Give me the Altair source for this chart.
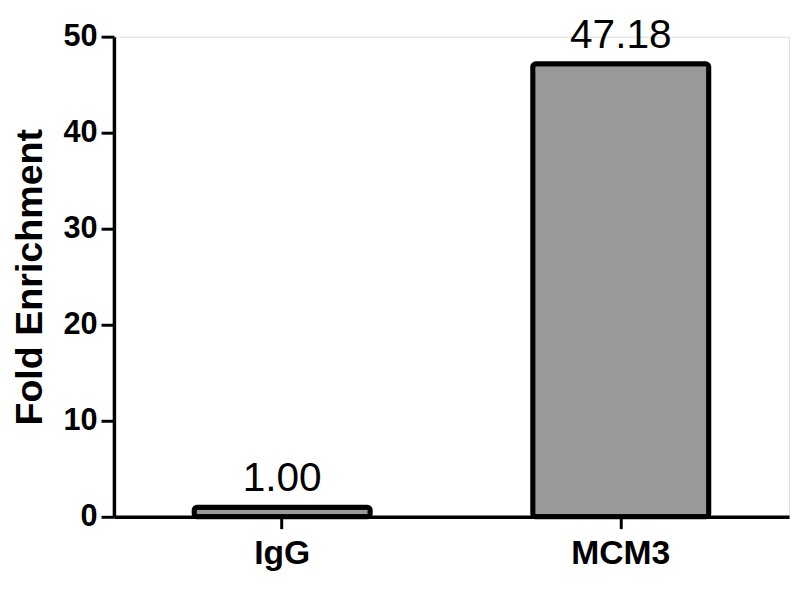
import altair as alt
import pandas as pd

categories = ["IgG", "MCM3"]
values = [1.00, 47.18]
value_labels = ["1.00", "47.18"]
y_ticks = [0, 10, 20, 30, 40, 50]

df = pd.DataFrame({"cat": categories, "val": values, "label": value_labels})

FONT = "Liberation Sans"

x_enc = alt.X(
    "cat:N",
    sort=categories,
    scale=alt.Scale(paddingInner=0.48, paddingOuter=0.237),
    axis=alt.Axis(
        title=None,
        labelAngle=0,
        labelFont=FONT,
        labelFontSize=34,
        labelFontWeight="bold",
        labelColor="black",
        labelPadding=8,
        domainColor="black",
        domainWidth=3.5,
        tickColor="black",
        tickWidth=3,
        tickSize=12,
    ),
)

y_enc = alt.Y(
    "val:Q",
    scale=alt.Scale(domain=[0, 50], nice=False),
    axis=alt.Axis(
        title="Fold Enrichment",
        values=y_ticks,
        grid=False,
        labelFont=FONT,
        labelFontSize=31,
        labelFontWeight="bold",
        labelColor="black",
        labelPadding=4,
        domainColor="black",
        domainWidth=3.5,
        tickColor="black",
        tickWidth=3,
        tickSize=13,
        titleFont=FONT,
        titleFontSize=38,
        titleFontWeight="bold",
        titleColor="black",
        titlePadding=14,
    ),
)

bars = alt.Chart(df).mark_bar(
    fill="#999999", stroke="black", strokeWidth=5, cornerRadius=3
).encode(x=x_enc, y=y_enc)

text = alt.Chart(df).mark_text(
    baseline="bottom", dy=-7, fontSize=41, font=FONT, color="black"
).encode(x=alt.X("cat:N", sort=categories), y=alt.Y("val:Q"), text="label:N")

chart = (
    alt.layer(bars, text)
    .properties(
        width=682,
        height=485,
        autosize="none",
        padding={"left": 107, "top": 26, "right": 3, "bottom": 73},
    )
    .configure_view(stroke=None)
    .configure(background="white")
)

chart.save("out.html", embed_options={"renderer": "svg", "actions": False})
